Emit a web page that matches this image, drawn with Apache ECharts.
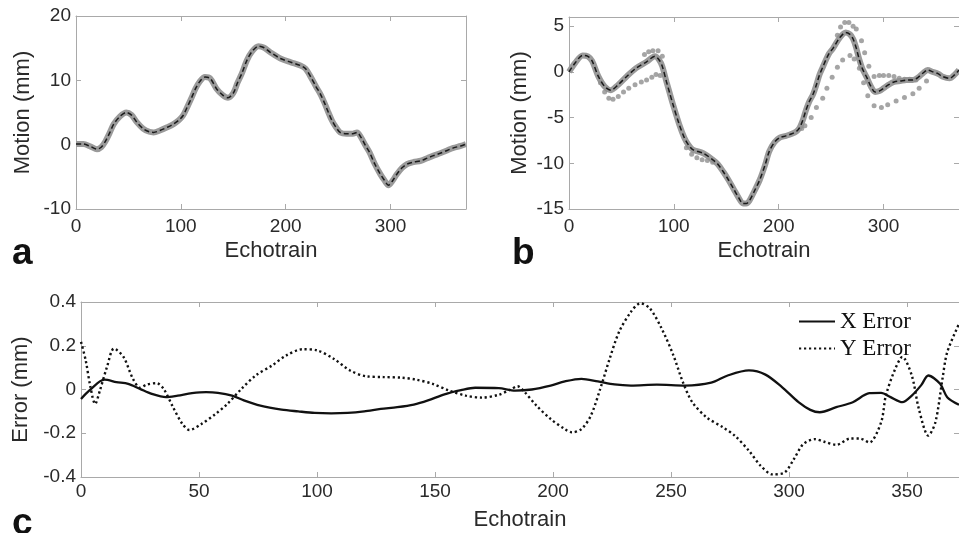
<!DOCTYPE html>
<html>
<head>
<meta charset="utf-8">
<script src="https://cdn.jsdelivr.net/npm/echarts@6/dist/echarts.min.js"></script>
<style>html,body{margin:0;padding:0;background:#fff;}#chart{width:959px;height:533px;}</style>
</head>
<body>
<div id="chart"></div>
<script>
// ---------- DATA ----------
// Panel a: motion (mm) vs echotrain, true trace (black) and estimate (gray)
var aTrue = [[0,0.1],[7,0.1],[14,-0.3],[20,-0.7],[24,-0.4],[28,0.5],[32,1.8],[36,3.2],[42,4.4],[48,5.0],[53,4.6],[58,3.5],[64,2.5],[70,2.0],[74,1.9],[80,2.2],[87,2.7],[93,3.2],[98,3.8],[102,4.5],[106,5.8],[110,7.2],[114,8.7],[118,9.8],[123,10.5],[128,10.3],[134,8.7],[140,7.7],[145,7.3],[150,8.0],[154,9.6],[158,11.0],[163,13.1],[168,14.5],[174,15.3],[179,15.1],[185,14.4],[195,13.4],[205,12.8],[214,12.3],[219,11.8],[224,10.5],[229,9.0],[233,7.9],[237,6.5],[240,5.3],[244,3.8],[248,2.7],[252,1.9],[258,1.7],[264,1.7],[268,1.9],[272,1.1],[276,-0.1],[280,-1.2],[285,-3.0],[290,-4.5],[294,-5.5],[298,-6.3],[302,-5.6],[306,-4.6],[311,-3.6],[316,-3.0],[322,-2.7],[329,-2.5],[335,-2.1],[341,-1.7],[348,-1.3],[354,-0.9],[360,-0.5],[367,-0.2],[372,0.1]];
var aEstimate = aTrue;

// Panel b
var bTrue = [[0,0.0],[6,1.0],[13,1.8],[18,1.7],[22,1.2],[28,-0.5],[34,-1.6],[40,-2.0],[47,-1.4],[55,-0.5],[64,0.4],[74,1.1],[82,1.7],[86,1.3],[89,0.6],[93,-1.1],[96,-2.3],[99,-3.5],[105,-5.7],[110,-7.2],[114,-8.0],[118,-8.5],[128,-8.9],[137,-9.6],[142,-10.1],[147,-10.9],[152,-11.8],[157,-12.8],[162,-13.8],[166,-14.4],[169,-14.4],[172,-14.1],[177,-13.0],[182,-11.8],[187,-10.2],[191,-8.7],[196,-7.7],[201,-7.2],[207,-7.0],[212,-6.8],[217,-6.5],[220,-6.1],[223,-5.3],[226,-4.2],[229,-3.3],[233,-2.4],[236,-1.4],[239,-0.3],[242,0.5],[245,1.3],[248,2.0],[252,2.6],[258,3.7],[264,4.3],[268,4.1],[271,3.6],[274,2.6],[277,1.3],[280,0.3],[284,-0.6],[288,-1.6],[292,-2.2],[296,-2.1],[300,-1.8],[305,-1.4],[310,-1.1],[316,-1.0],[322,-0.9],[328,-0.9],[333,-0.6],[338,-0.1],[342,0.2],[347,0.0],[352,-0.2],[356,-0.5],[363,-0.7],[368,-0.3],[372,0.2]];
var bEstimate = bTrue;
var bUpper = [[72,1.9],[76,2.2],[80,2.3],[85,2.3],[89,1.7],[256,4.0],[259,4.9],[263,5.4],[267,5.4],[271,5.0],[274,4.7],[279,3.4],[282,2.1],[286,0.6],[291,-0.5],[296,-0.4],[300,-0.4],[305,-0.4],[310,-0.5],[315,-0.7],[320,-0.8],[325,-0.8],[331,-0.9]];
var bLower = [[30,-1.2],[34,-2.2],[38,-2.9],[42,-3.0],[47,-2.7],[52,-2.2],[57,-1.8],[63,-1.4],[69,-1.1],[74,-0.9],[79,-0.6],[83,-0.3],[87,-0.4],[112,-8.3],[117,-9.0],[122,-9.4],[127,-9.6],[132,-9.7],[137,-9.9],[222,-6.2],[225,-5.9],[231,-5.0],[236,-3.9],[242,-2.9],[246,-1.8],[251,-0.6],[256,0.5],[261,1.3],[268,1.8],[272,1.4],[277,0.4],[281,-1.2],[285,-2.6],[291,-3.7],[298,-3.9],[304,-3.6],[312,-3.2],[320,-2.8],[328,-2.4],[334,-1.8],[341,-1.0]];

// Panel c: error (mm)
var cXError = [[0,-0.043],[2,-0.02],[5,0.01],[8,0.037],[10,0.045],[15,0.034],[20,0.026],[25,0.003],[30,-0.02],[36,-0.035],[41,-0.028],[47,-0.017],[53,-0.012],[58,-0.015],[64,-0.028],[69,-0.05],[76,-0.074],[85,-0.092],[92,-0.1],[99,-0.107],[106,-0.109],[113,-0.107],[120,-0.1],[127,-0.089],[134,-0.081],[141,-0.069],[147,-0.05],[154,-0.022],[161,-0.003],[167,0.008],[177,0.006],[184,-0.005],[191,0.0],[199,0.018],[205,0.037],[212,0.049],[219,0.037],[226,0.023],[233,0.018],[244,0.022],[256,0.018],[267,0.031],[274,0.064],[283,0.087],[290,0.068],[297,0.011],[304,-0.058],[309,-0.093],[313,-0.104],[320,-0.081],[327,-0.058],[334,-0.017],[339,-0.015],[343,-0.035],[348,-0.058],[352,-0.028],[356,0.02],[359,0.064],[364,0.026],[367,-0.035],[372,-0.07]];
var cYError = [[0,0.218],[2,0.133],[4,0.011],[6,-0.066],[8,-0.005],[11,0.103],[14,0.187],[18,0.149],[22,0.049],[25,0.008],[28,0.023],[32,0.029],[35,0.003],[39,-0.081],[43,-0.158],[46,-0.185],[51,-0.158],[57,-0.112],[62,-0.066],[68,0.003],[74,0.064],[81,0.11],[87,0.156],[94,0.184],[100,0.179],[107,0.141],[114,0.087],[121,0.06],[128,0.057],[136,0.054],[142,0.045],[149,0.026],[156,-0.005],[163,-0.028],[170,-0.037],[177,-0.024],[182,0.0],[185,0.015],[188,-0.012],[193,-0.074],[199,-0.135],[205,-0.181],[208,-0.196],[212,-0.181],[216,-0.12],[220,0.003],[224,0.141],[228,0.264],[233,0.355],[237,0.394],[241,0.371],[246,0.279],[251,0.156],[255,0.034],[259,-0.058],[265,-0.127],[272,-0.173],[277,-0.211],[283,-0.28],[288,-0.349],[293,-0.388],[298,-0.38],[302,-0.319],[306,-0.25],[311,-0.227],[315,-0.239],[320,-0.253],[326,-0.224],[330,-0.224],[334,-0.242],[339,-0.15],[341,-0.028],[345,0.095],[348,0.149],[352,0.064],[355,-0.089],[359,-0.211],[362,-0.15],[365,0.049],[367,0.17],[372,0.3]];

var panelLetters = ['a', 'b', 'c'];
var xTitle = 'Echotrain';
var yTitleMotion = 'Motion (mm)';
var yTitleError = 'Error (mm)';
var legendNames = ['X Error', 'Y Error'];

// ---------- CHART ----------
var chart = echarts.init(document.getElementById('chart'), null, {renderer: 'canvas'});
var SANS = 'Liberation Sans, Arial, Helvetica, sans-serif';
var AXC = '#a9a9a9';
var labelStyle = {color: '#2a2a2a', fontSize: 19, fontFamily: SANS};
var nameStyle = {color: '#2a2a2a', fontSize: 22, fontFamily: SANS};
var letterStyle = {fontSize: 37, fontWeight: 'bold', color: '#111', fontFamily: SANS};

function mainX(grid, min, max, interval, margin, gap) {
  return {type: 'value', gridIndex: grid, min: min, max: max, interval: interval, position: 'bottom',
    name: xTitle, nameLocation: 'middle', nameGap: gap, nameTextStyle: nameStyle,
    axisLine: {show: true, onZero: false, lineStyle: {color: AXC, width: 1}},
    axisTick: {show: true, inside: true, length: 5, lineStyle: {color: AXC}},
    axisLabel: Object.assign({margin: margin, showMaxLabel: false}, labelStyle),
    splitLine: {show: false}};
}
function mirrorX(grid, min, max, interval) {
  return {type: 'value', gridIndex: grid, min: min, max: max, interval: interval, position: 'top',
    axisLine: {show: true, onZero: false, lineStyle: {color: AXC, width: 1}},
    axisTick: {show: true, inside: true, length: 5, lineStyle: {color: AXC}},
    axisLabel: {show: false}, splitLine: {show: false}};
}
function mainY(grid, min, max, interval, name, gap) {
  return {type: 'value', gridIndex: grid, min: min, max: max, interval: interval, position: 'left',
    name: name, nameLocation: 'middle', nameGap: gap, nameTextStyle: nameStyle,
    axisLine: {show: true, onZero: false, lineStyle: {color: AXC, width: 1}},
    axisTick: {show: true, inside: true, length: 5, lineStyle: {color: AXC}},
    axisLabel: Object.assign({margin: 5, formatter: function (v) {
      return (Math.abs(v / interval - Math.round(v / interval)) < 1e-6) ? String(+v.toFixed(2)) : '';
    }}, labelStyle),
    splitLine: {show: false}};
}
function mirrorY(grid, min, max, interval) {
  return {type: 'value', gridIndex: grid, min: min, max: max, interval: interval, position: 'right',
    axisLine: {show: true, onZero: false, lineStyle: {color: AXC, width: 1}},
    axisTick: {show: true, inside: true, length: 5, lineStyle: {color: AXC}},
    axisLabel: {show: false}, splitLine: {show: false}};
}

var option = {
  backgroundColor: '#ffffff',
  animation: false,
  title: [
    {text: panelLetters[0], left: 7, top: 230, textStyle: letterStyle},
    {text: panelLetters[1], left: 507, top: 230, textStyle: letterStyle},
    {text: panelLetters[2], left: 7, top: 500, textStyle: letterStyle}
  ],
  grid: [
    {left: 76, top: 16, width: 390, height: 193, containLabel: false},
    {left: 569, top: 17, width: 390, height: 192, containLabel: false},
    {left: 81, top: 302, width: 889, height: 175, containLabel: false}
  ],
  legend: {
    data: legendNames, orient: 'vertical', left: 793, top: 305, itemGap: 4,
    itemWidth: 36, itemHeight: 14,
    itemStyle: {opacity: 0, color: 'rgba(0,0,0,0)', borderWidth: 0},
    textStyle: {fontFamily: 'Liberation Serif, Times New Roman, serif', fontSize: 23, color: '#111', lineHeight: 22},
    backgroundColor: 'rgba(0,0,0,0)'
  },
  xAxis: [
    mainX(0, 0, 372, 100, 8, 31), mirrorX(0, 0, 372, 100),
    mainX(1, 0, 372, 100, 8, 31), mirrorX(1, 0, 372, 100),
    mainX(2, 0, 372, 50, 5, 32), mirrorX(2, 0, 372, 50)
  ],
  yAxis: [
    mainY(0, -10, 20, 10, yTitleMotion, 42), mirrorY(0, -10, 20, 10),
    mainY(1, -15, 6, 5, yTitleMotion, 38), mirrorY(1, -15, 6, 5),
    mainY(2, -0.4, 0.4, 0.2, yTitleError, 46), mirrorY(2, -0.4, 0.4, 0.2)
  ],
  series: [
    {type: 'line', name: 'a-est', xAxisIndex: 0, yAxisIndex: 0, data: aEstimate, symbol: 'none', smooth: 0.3,
      lineStyle: {color: '#9a9a9a', width: 6}, z: 2},
    {type: 'line', name: 'a-true', xAxisIndex: 0, yAxisIndex: 0, data: aTrue, symbol: 'none', smooth: 0.3,
      lineStyle: {color: '#1a1a1a', width: 1.5, type: [5, 3]}, z: 3},
    {type: 'scatter', name: 'b-upper', xAxisIndex: 2, yAxisIndex: 2, data: bUpper, symbolSize: 5,
      itemStyle: {color: '#8f8f8f'}, z: 2},
    {type: 'scatter', name: 'b-lower', xAxisIndex: 2, yAxisIndex: 2, data: bLower, symbolSize: 5,
      itemStyle: {color: '#8f8f8f'}, z: 2},
    {type: 'line', name: 'b-est', xAxisIndex: 2, yAxisIndex: 2, data: bEstimate, symbol: 'none', smooth: 0.3,
      lineStyle: {color: '#9a9a9a', width: 6}, z: 2},
    {type: 'line', name: 'b-true', xAxisIndex: 2, yAxisIndex: 2, data: bTrue, symbol: 'none', smooth: 0.3,
      lineStyle: {color: '#1a1a1a', width: 1.5, type: [5, 3]}, z: 3},
    {type: 'line', name: legendNames[0], xAxisIndex: 4, yAxisIndex: 4, data: cXError, symbol: 'none', smooth: 0.3,
      itemStyle: {color: '#111'}, lineStyle: {color: '#111', width: 2.3}, z: 3},
    {type: 'line', name: legendNames[1], xAxisIndex: 4, yAxisIndex: 4, data: cYError, symbol: 'none', smooth: 0.3,
      itemStyle: {color: '#111'}, lineStyle: {color: '#111', width: 2.4, type: [2.2, 2.8]}, z: 3}
  ]
};
chart.setOption(option);
</script>
</body>
</html>
